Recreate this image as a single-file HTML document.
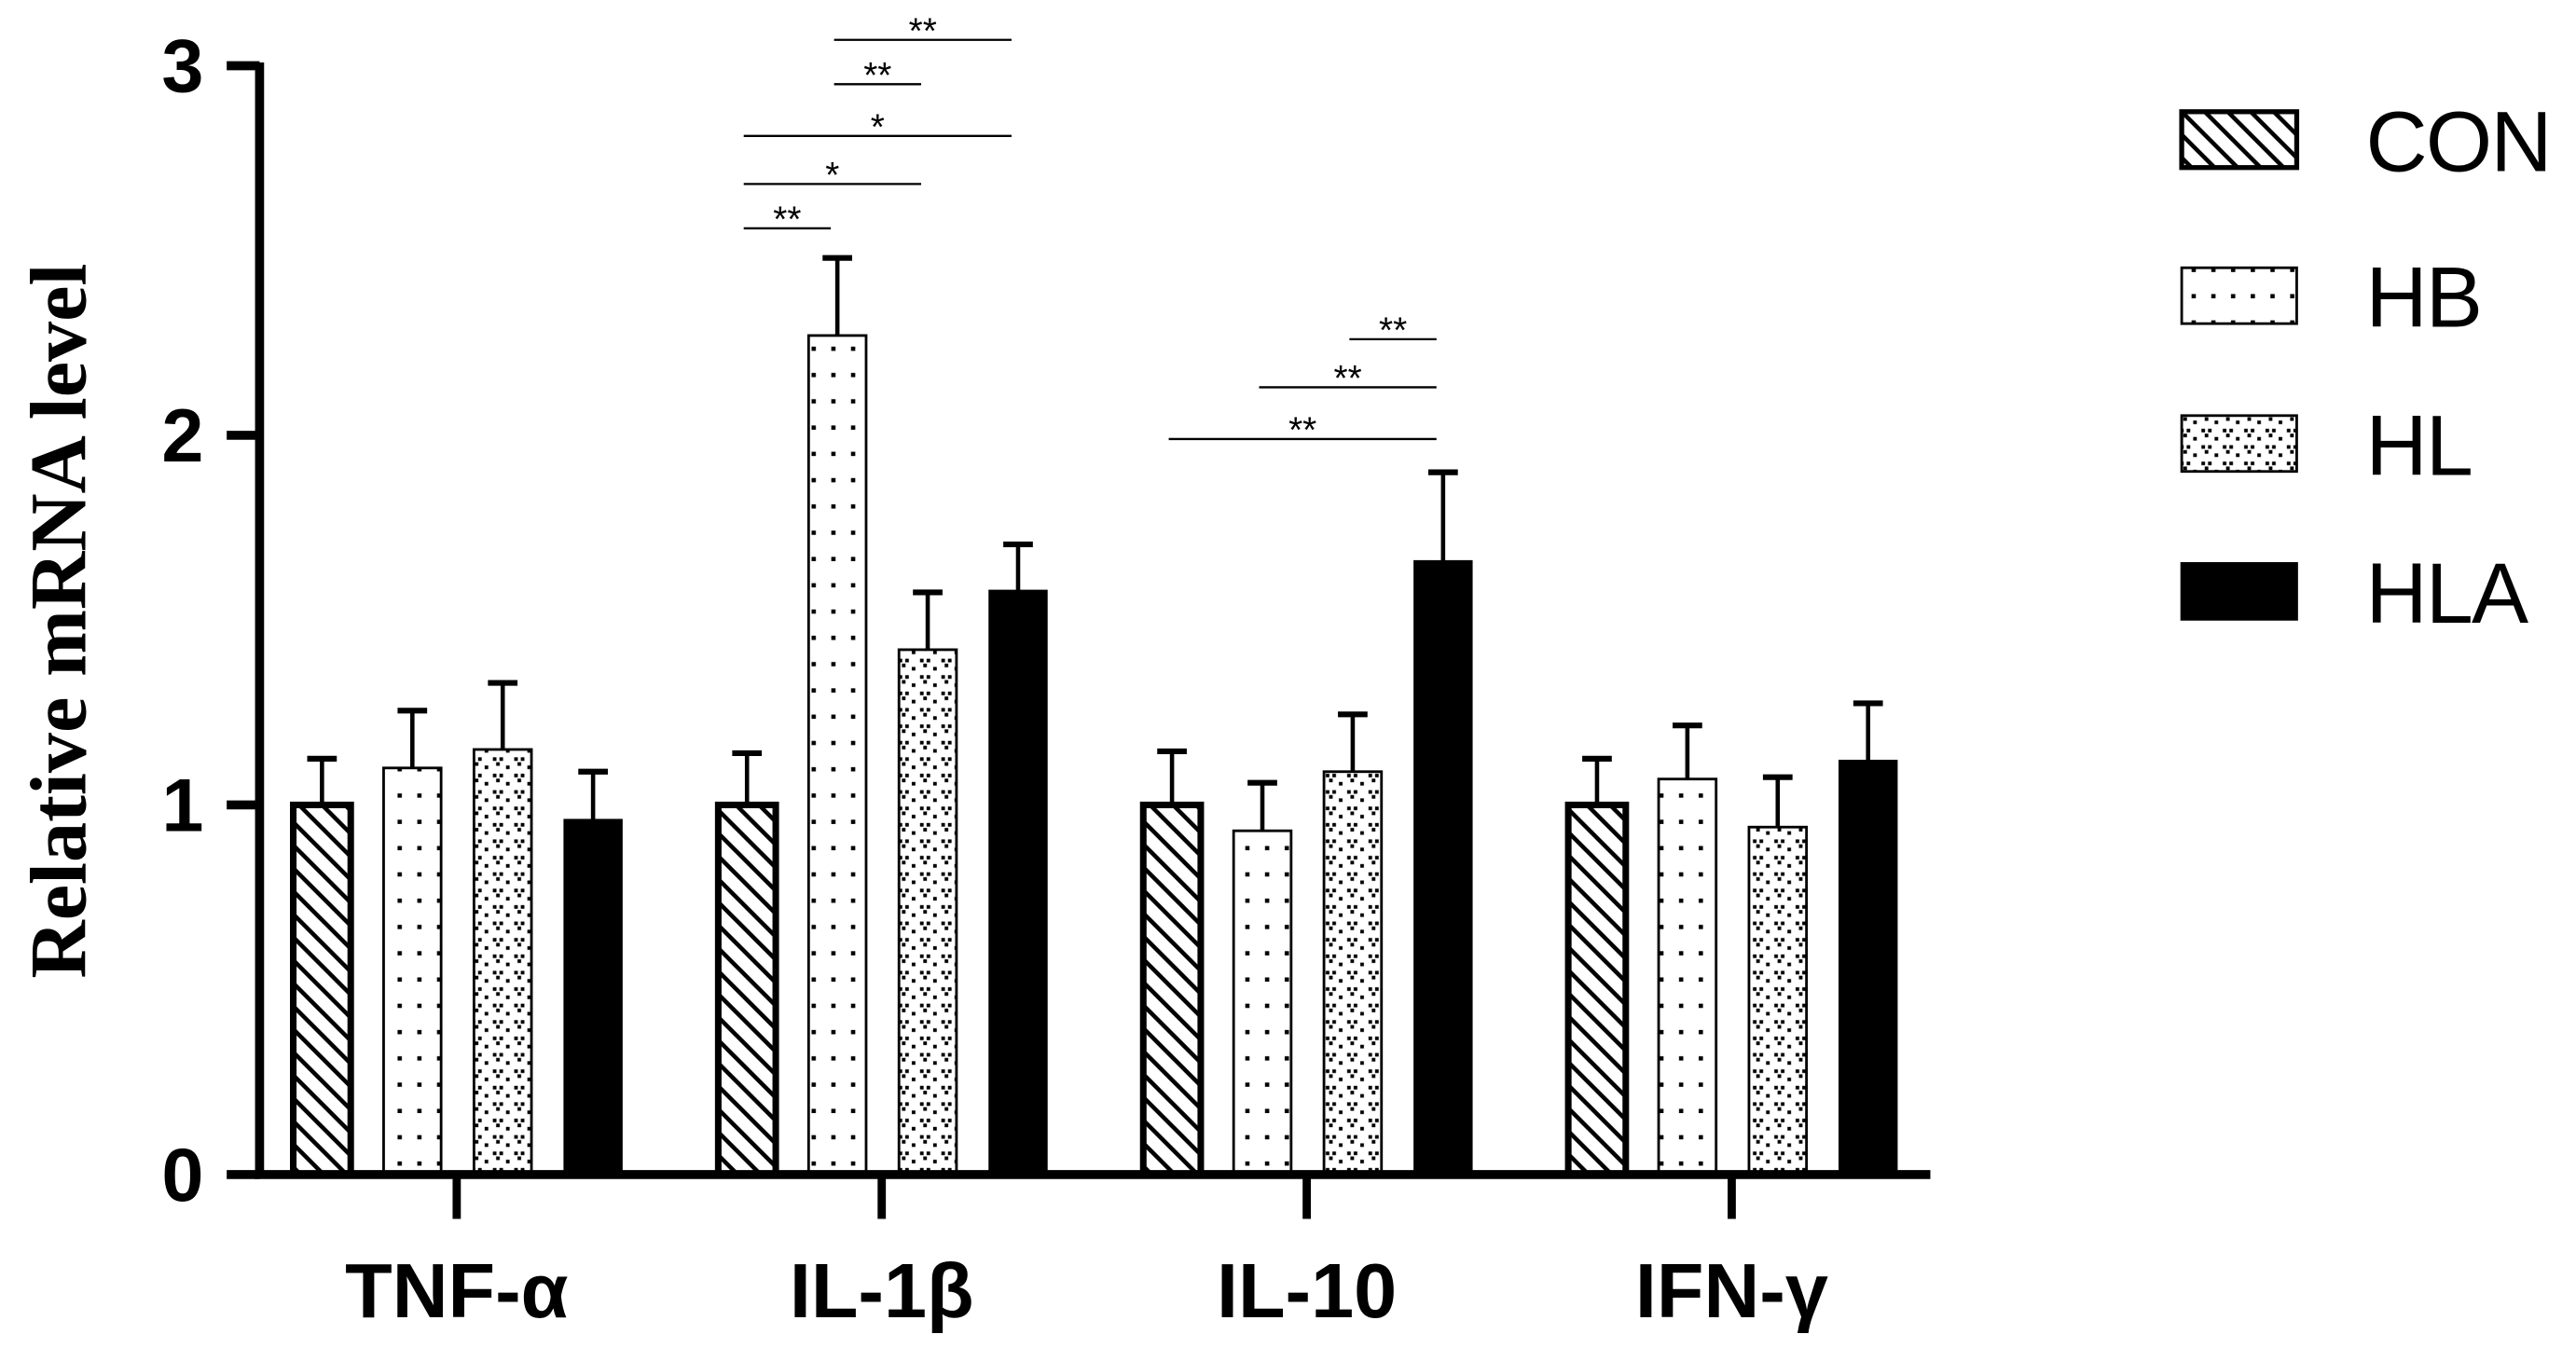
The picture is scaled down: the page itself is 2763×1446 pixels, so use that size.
<!DOCTYPE html>
<html><head><meta charset="utf-8"><style>
html,body{margin:0;padding:0;background:#fff;}
svg{display:block;}
</style></head><body>
<svg id="chart" width="2763" height="1446" viewBox="0 0 1568 820.6" preserveAspectRatio="none" xmlns="http://www.w3.org/2000/svg">
<defs>
<pattern id="pCON" patternUnits="userSpaceOnUse" width="14" height="14">
<rect width="14" height="14" fill="#fff"/>
<path d="M-3,-3 L17,17 M-3,11 L3,17 M11,-3 L17,3" stroke="#000" stroke-width="2.6"/>
</pattern>
<pattern id="pHB" patternUnits="userSpaceOnUse" width="12" height="16">
<rect width="12" height="16" fill="#fff"/>
<rect x="2" y="3" width="2.6" height="2.6" fill="#000"/>
</pattern>
<pattern id="pHL" patternUnits="userSpaceOnUse" width="13" height="10">
<rect width="13" height="10" fill="#fff"/>
<rect x="1" y="1" width="2.2" height="2.2" fill="#000"/><rect x="5" y="1" width="2.2" height="2.2" fill="#000"/><rect x="3" y="4" width="2.2" height="2.2" fill="#000"/>
<rect x="9" y="6" width="2.2" height="2.2" fill="#000"/>
</pattern>
</defs>
<g id="plot"></g>
</svg>
<script>
const categories = ["TNF-α","IL-1β","IL-10","IFN-γ"];
const groups = ["CON","HB","HL","HLA"];
const valCON = [1.00,1.00,1.00,1.00];
const valHB  = [1.10,2.27,0.93,1.07];
const valHL  = [1.15,1.42,1.09,0.94];
const valHLA = [0.96,1.58,1.66,1.12];
const errCON = [0.125,0.14,0.145,0.125];
const errHB  = [0.155,0.21,0.13,0.145];
const errHL  = [0.18,0.155,0.155,0.135];
const errHLA = [0.13,0.125,0.24,0.155];
const yTicks = [0,1,2,3];
const sigCat = [1,1,1,1,1,2,2,2];
const sigA   = [0,0,0,1,1,0,1,2];
const sigB   = [1,2,3,2,3,3,3,3];
const sigY   = [2.56,2.68,2.81,2.95,3.07,1.99,2.13,2.26];
const sigLbl = ["**","*","*","**","**","**","**","**"];

const NS="http://www.w3.org/2000/svg";
const g=document.getElementById('plot');
const X0=158,Y0=715,UNIT=225,XEND=1175;
const yS=v=>Y0-v*UNIT;
const catX=i=>278+i*258.7;
const barOff=[-82,-27,28,83];
const barX=(c,k)=>catX(c)+barOff[k];
const BW=35;
function el(t,a,p){const e=document.createElementNS(NS,t);for(const k in a)e.setAttribute(k,a[k]);(p||g).appendChild(e);return e;}
const vals=[valCON,valHB,valHL,valHLA], errs=[errCON,errHB,errHL,errHLA];
const fills=["url(#pCON)","url(#pHB)","url(#pHL)","#000"];
const sw=[4,1.6,1.6,1];
categories.forEach((c,i)=>{
  groups.forEach((gname,k)=>{
    const v=vals[k][i],e=errs[k][i],cx=barX(i,k);
    const eb=el('line',{x1:cx,x2:cx,y1:yS(v),y2:yS(v+e),stroke:'#000','stroke-width':2.6});
    
    
    const cap=el('line',{x1:cx-9,x2:cx+9,y1:yS(v+e),y2:yS(v+e),stroke:'#000','stroke-width':3.5});
    
    
    const b=el('rect',{x:cx-BW/2,y:yS(v),width:BW,height:v*UNIT,fill:fills[k],stroke:'#000','stroke-width':sw[k]});
    
    
  });
  const t=el('line',{x1:catX(i),x2:catX(i),y1:Y0,y2:742,stroke:'#000','stroke-width':5});
  
  
  const lb=el('text',{x:catX(i),y:802,'text-anchor':'middle','font-family':'Liberation Sans, DejaVu Sans, sans-serif','font-weight':'bold','font-size':47});
  lb.textContent=c;
  
  
});
const ya=el('line',{x1:X0,x2:X0,y1:yS(3)-2,y2:Y0+2,stroke:'#000','stroke-width':5.5});


const xa=el('line',{x1:X0-3,x2:XEND,y1:Y0,y2:Y0,stroke:'#000','stroke-width':5.5});


yTicks.forEach(v=>{
  const t=el('line',{x1:138,x2:X0,y1:yS(v),y2:yS(v),stroke:'#000','stroke-width':5.5});
  
  
  const l=el('text',{x:124,y:yS(v)+16,'text-anchor':'end','font-family':'Liberation Sans, sans-serif','font-weight':'bold','font-size':46});
  l.textContent=v;
  
  
});
const yt=el('text',{x:0,y:0,transform:'translate(52,378) rotate(-90)','text-anchor':'middle','font-family':'Liberation Serif, serif','font-weight':'bold','font-size':49});
yt.textContent='Relative mRNA level';


sigCat.forEach((c,j)=>{
  const xa1=barX(c,sigA[j])-2, xb=barX(c,sigB[j])-4, y=yS(sigY[j]);
  const ln=el('line',{x1:xa1,x2:xb,y1:y,y2:y,stroke:'#000','stroke-width':1.3});
  
  
  const tx=el('text',{x:(xa1+xb)/2,y:y+2,'text-anchor':'middle','font-family':'Liberation Sans, sans-serif','font-size':22});
  tx.textContent=sigLbl[j];
  
  
});
const legY=[68,163,253,343];
groups.forEach((gname,k)=>{
  const r=el('rect',{x:1328,y:legY[k],width:70,height:34,fill:fills[k],stroke:'#000','stroke-width':k==0?3:1.6});
  
  
  const t=el('text',{x:1440,y:legY[k]+36,'font-family':'Liberation Sans, sans-serif','font-size':52,'letter-spacing':-1});
  t.textContent=gname;
  
  
});
</script>
</body></html>
